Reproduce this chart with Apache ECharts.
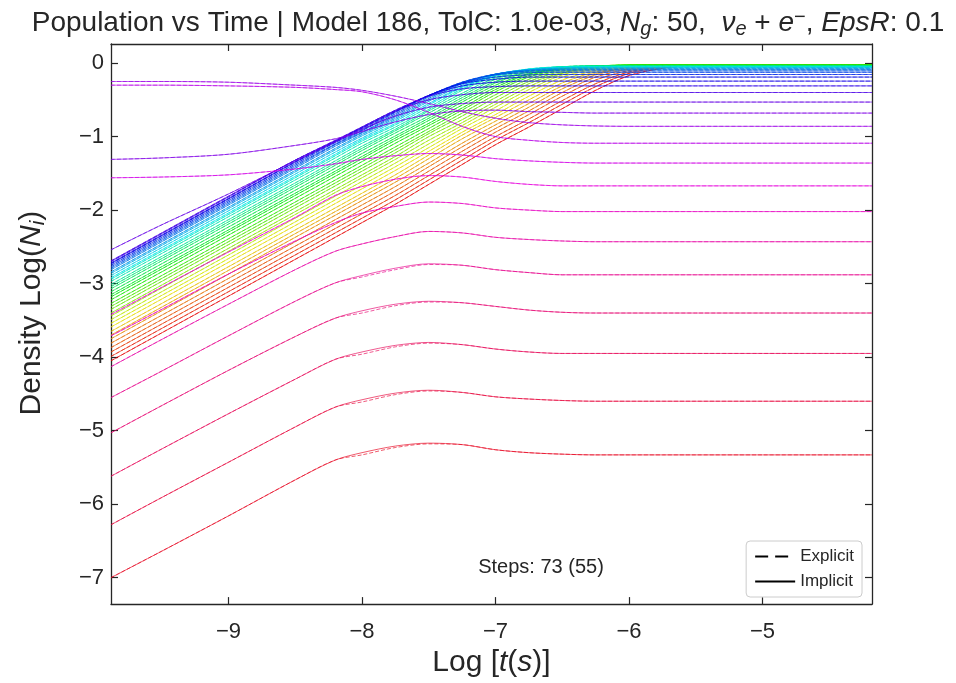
<!DOCTYPE html>
<html><head><meta charset="utf-8">
<script src="https://cdn.jsdelivr.net/npm/echarts@6/dist/echarts.min.js"></script>
<style>html,body{margin:0;padding:0;background:#fff}#c{width:956px;height:683px}</style>
</head><body><div id="c"></div>
<script>
// time grid (log10 t)
const logT = [-9.88,-9.5,-9.0,-8.5,-8.2,-8.0,-7.75,-7.5,-7.25,-7.0,-6.75,-6.5,-6.25,-6.0,-5.75,-5.5,-5.0,-4.5,-4.18];
const xTicks = [-9,-8,-7,-6,-5];
const yTicks = [-7,-6,-5,-4,-3,-2,-1,0];

// implicit populations log10(N_i), groups 0..49
const N00 = [-4.05,-3.67,-3.17,-2.67,-2.37,-2.17,-1.92,-1.65,-1.38,-1.11,-0.87,-0.62,-0.37,-0.17,-0.07,-0.03,-0.022,-0.022,-0.022];
const N01 = [-3.99,-3.61,-3.11,-2.61,-2.31,-2.11,-1.86,-1.59,-1.32,-1.05,-0.81,-0.56,-0.32,-0.14,-0.06,-0.03,-0.022,-0.022,-0.022];
const N02 = [-3.93,-3.55,-3.05,-2.55,-2.25,-2.05,-1.80,-1.53,-1.26,-1.00,-0.76,-0.51,-0.28,-0.12,-0.05,-0.03,-0.022,-0.022,-0.022];
const N03 = [-3.87,-3.49,-2.99,-2.49,-2.19,-1.99,-1.74,-1.47,-1.20,-0.94,-0.70,-0.45,-0.23,-0.10,-0.04,-0.022,-0.022,-0.022,-0.022];
const N04 = [-3.81,-3.43,-2.93,-2.43,-2.13,-1.93,-1.68,-1.41,-1.14,-0.89,-0.65,-0.40,-0.19,-0.08,-0.03,-0.023,-0.023,-0.023,-0.023];
const N05 = [-3.75,-3.37,-2.87,-2.37,-2.07,-1.87,-1.62,-1.36,-1.09,-0.84,-0.60,-0.35,-0.16,-0.06,-0.03,-0.023,-0.023,-0.023,-0.023];
const N06 = [-3.70,-3.32,-2.82,-2.32,-2.02,-1.82,-1.57,-1.30,-1.03,-0.79,-0.55,-0.31,-0.14,-0.06,-0.03,-0.023,-0.023,-0.023,-0.023];
const N07 = [-3.65,-3.27,-2.77,-2.27,-1.97,-1.77,-1.52,-1.25,-0.98,-0.74,-0.50,-0.27,-0.12,-0.05,-0.03,-0.023,-0.023,-0.023,-0.023];
const N08 = [-3.59,-3.21,-2.71,-2.21,-1.91,-1.71,-1.46,-1.20,-0.94,-0.70,-0.45,-0.23,-0.10,-0.04,-0.024,-0.024,-0.024,-0.024,-0.024];
const N09 = [-3.54,-3.16,-2.66,-2.16,-1.86,-1.66,-1.41,-1.15,-0.89,-0.65,-0.40,-0.19,-0.08,-0.03,-0.024,-0.024,-0.024,-0.024,-0.024];
const N10 = [-3.49,-3.11,-2.61,-2.11,-1.81,-1.61,-1.36,-1.10,-0.85,-0.60,-0.36,-0.16,-0.07,-0.03,-0.025,-0.025,-0.025,-0.025,-0.025];
const N11 = [-3.44,-3.06,-2.56,-2.06,-1.76,-1.56,-1.31,-1.05,-0.81,-0.56,-0.32,-0.14,-0.06,-0.03,-0.025,-0.025,-0.025,-0.025,-0.025];
const N12 = [-3.40,-3.02,-2.52,-2.02,-1.72,-1.52,-1.27,-1.00,-0.77,-0.52,-0.28,-0.13,-0.05,-0.03,-0.026,-0.026,-0.026,-0.026,-0.026];
const N13 = [-3.35,-2.97,-2.47,-1.97,-1.67,-1.47,-1.22,-0.96,-0.72,-0.47,-0.25,-0.11,-0.05,-0.026,-0.026,-0.026,-0.026,-0.026,-0.026];
const N14 = [-3.31,-2.93,-2.43,-1.93,-1.63,-1.43,-1.18,-0.93,-0.68,-0.43,-0.22,-0.09,-0.04,-0.027,-0.027,-0.027,-0.027,-0.027,-0.027];
const N15 = [-3.27,-2.89,-2.39,-1.89,-1.59,-1.39,-1.14,-0.89,-0.64,-0.39,-0.19,-0.08,-0.04,-0.028,-0.028,-0.028,-0.028,-0.028,-0.028];
const N16 = [-3.22,-2.84,-2.34,-1.84,-1.54,-1.34,-1.09,-0.85,-0.61,-0.36,-0.17,-0.07,-0.04,-0.029,-0.029,-0.029,-0.029,-0.029,-0.029];
const N17 = [-3.18,-2.80,-2.30,-1.80,-1.50,-1.30,-1.05,-0.82,-0.57,-0.33,-0.15,-0.07,-0.04,-0.030,-0.030,-0.030,-0.030,-0.030,-0.030];
const N18 = [-3.15,-2.77,-2.27,-1.77,-1.47,-1.27,-1.02,-0.78,-0.53,-0.30,-0.14,-0.06,-0.04,-0.031,-0.031,-0.031,-0.031,-0.031,-0.031];
const N19 = [-3.11,-2.73,-2.23,-1.73,-1.43,-1.23,-0.99,-0.75,-0.50,-0.27,-0.12,-0.06,-0.04,-0.033,-0.033,-0.033,-0.033,-0.033,-0.033];
const N20 = [-3.07,-2.69,-2.19,-1.69,-1.39,-1.19,-0.95,-0.72,-0.47,-0.25,-0.11,-0.05,-0.04,-0.035,-0.035,-0.035,-0.035,-0.035,-0.035];
const N21 = [-3.04,-2.66,-2.16,-1.66,-1.36,-1.16,-0.92,-0.68,-0.44,-0.22,-0.10,-0.05,-0.037,-0.037,-0.037,-0.037,-0.037,-0.037,-0.037];
const N22 = [-3.01,-2.63,-2.13,-1.63,-1.33,-1.13,-0.90,-0.65,-0.41,-0.20,-0.09,-0.05,-0.040,-0.040,-0.040,-0.040,-0.040,-0.040,-0.040];
const N23 = [-2.97,-2.59,-2.09,-1.59,-1.29,-1.09,-0.87,-0.63,-0.37,-0.18,-0.09,-0.05,-0.043,-0.043,-0.043,-0.043,-0.043,-0.043,-0.043];
const N24 = [-2.94,-2.56,-2.06,-1.56,-1.26,-1.06,-0.84,-0.60,-0.35,-0.17,-0.08,-0.05,-0.047,-0.047,-0.047,-0.047,-0.047,-0.047,-0.047];
const N25 = [-2.92,-2.54,-2.04,-1.54,-1.24,-1.04,-0.82,-0.57,-0.33,-0.16,-0.08,-0.06,-0.052,-0.052,-0.052,-0.052,-0.052,-0.052,-0.052];
const N26 = [-2.89,-2.51,-2.01,-1.51,-1.21,-1.02,-0.79,-0.55,-0.32,-0.16,-0.09,-0.06,-0.058,-0.058,-0.058,-0.058,-0.058,-0.058,-0.058];
const N27 = [-2.86,-2.48,-1.98,-1.48,-1.18,-0.99,-0.77,-0.52,-0.30,-0.15,-0.09,-0.07,-0.066,-0.066,-0.066,-0.066,-0.066,-0.066,-0.066];
const N28 = [-2.84,-2.46,-1.96,-1.46,-1.16,-0.97,-0.75,-0.50,-0.28,-0.15,-0.09,-0.08,-0.076,-0.076,-0.076,-0.076,-0.076,-0.076,-0.076];
const N29 = [-2.81,-2.43,-1.93,-1.43,-1.13,-0.95,-0.73,-0.48,-0.27,-0.15,-0.10,-0.09,-0.088,-0.088,-0.088,-0.088,-0.088,-0.088,-0.088];
const N30 = [-2.79,-2.41,-1.91,-1.41,-1.11,-0.94,-0.71,-0.46,-0.26,-0.15,-0.11,-0.105,-0.105,-0.105,-0.105,-0.105,-0.105,-0.105,-0.105];
const N31 = [-2.77,-2.39,-1.89,-1.39,-1.10,-0.92,-0.69,-0.445,-0.26,-0.16,-0.13,-0.125,-0.125,-0.125,-0.125,-0.125,-0.125,-0.125,-0.125];
const N32 = [-2.75,-2.37,-1.87,-1.37,-1.08,-0.91,-0.67,-0.44,-0.27,-0.19,-0.16,-0.155,-0.155,-0.155,-0.155,-0.155,-0.155,-0.155,-0.155];
const N33 = [-2.73,-2.35,-1.85,-1.35,-1.07,-0.89,-0.66,-0.44,-0.28,-0.22,-0.19,-0.19,-0.19,-0.19,-0.19,-0.19,-0.19,-0.19,-0.19];
const N34 = [-2.72,-2.34,-1.84,-1.34,-1.06,-0.88,-0.65,-0.44,-0.31,-0.26,-0.245,-0.245,-0.245,-0.245,-0.245,-0.245,-0.245,-0.245,-0.245];
const N35 = [-2.70,-2.32,-1.82,-1.32,-1.06,-0.87,-0.64,-0.45,-0.35,-0.32,-0.31,-0.31,-0.31,-0.31,-0.31,-0.31,-0.31,-0.31,-0.31];
const N36 = [-2.69,-2.31,-1.81,-1.32,-1.05,-0.87,-0.65,-0.50,-0.43,-0.40,-0.40,-0.40,-0.40,-0.40,-0.40,-0.40,-0.40,-0.40,-0.40];
const N37 = [-2.54,-2.20,-1.78,-1.33,-1.07,-0.90,-0.72,-0.60,-0.55,-0.53,-0.53,-0.53,-0.53,-0.53,-0.53,-0.53,-0.53,-0.53,-0.53];
const N38 = [-1.31,-1.29,-1.24,-1.12,-1.03,-0.93,-0.80,-0.70,-0.65,-0.64,-0.66,-0.67,-0.68,-0.68,-0.68,-0.68,-0.68,-0.68,-0.68];
const N39 = [-0.25,-0.25,-0.26,-0.30,-0.33,-0.37,-0.45,-0.55,-0.66,-0.75,-0.81,-0.84,-0.855,-0.86,-0.86,-0.86,-0.86,-0.86,-0.86];
const N40 = [-0.30,-0.30,-0.31,-0.33,-0.36,-0.39,-0.50,-0.67,-0.86,-1.00,-1.05,-1.08,-1.09,-1.09,-1.09,-1.09,-1.09,-1.09,-1.09];
const N41 = [-1.56,-1.55,-1.52,-1.44,-1.37,-1.31,-1.26,-1.23,-1.25,-1.30,-1.33,-1.35,-1.36,-1.36,-1.36,-1.36,-1.36,-1.36,-1.36];
const N42 = [-3.42,-3.05,-2.57,-2.10,-1.80,-1.68,-1.58,-1.53,-1.55,-1.61,-1.65,-1.67,-1.67,-1.67,-1.67,-1.67,-1.67,-1.67,-1.67];
const N43 = [-3.71,-3.35,-2.87,-2.42,-2.17,-2.04,-1.95,-1.89,-1.91,-1.97,-2.00,-2.02,-2.02,-2.02,-2.02,-2.02,-2.02,-2.02,-2.02];
const N44 = [-4.13,-3.76,-3.28,-2.81,-2.56,-2.46,-2.36,-2.29,-2.31,-2.37,-2.40,-2.42,-2.43,-2.43,-2.43,-2.43,-2.43,-2.43,-2.43];
const N45 = [-4.55,-4.19,-3.71,-3.24,-2.99,-2.89,-2.79,-2.73,-2.75,-2.81,-2.85,-2.88,-2.88,-2.88,-2.88,-2.88,-2.88,-2.88,-2.88];
const N46 = [-5.03,-4.66,-4.18,-3.72,-3.47,-3.37,-3.28,-3.24,-3.26,-3.31,-3.36,-3.39,-3.40,-3.40,-3.40,-3.40,-3.40,-3.40,-3.40];
const N47 = [-5.62,-5.25,-4.77,-4.30,-4.03,-3.93,-3.84,-3.80,-3.83,-3.89,-3.93,-3.95,-3.95,-3.95,-3.95,-3.95,-3.95,-3.95,-3.95];
const N48 = [-6.28,-5.91,-5.43,-4.95,-4.68,-4.58,-4.49,-4.45,-4.48,-4.54,-4.57,-4.59,-4.60,-4.60,-4.60,-4.60,-4.60,-4.60,-4.60];
const N49 = [-7.00,-6.64,-6.16,-5.67,-5.40,-5.30,-5.21,-5.17,-5.19,-5.26,-5.30,-5.32,-5.33,-5.33,-5.33,-5.33,-5.33,-5.33,-5.33];

// explicit runs that visibly differ from implicit (highest groups, near the kink)
const E45 = [-4.55,-4.19,-3.71,-3.24,-2.99,-2.91,-2.81,-2.74,-2.75,-2.81,-2.85,-2.88,-2.88,-2.88,-2.88,-2.88,-2.88,-2.88,-2.88];
const E46 = [-5.03,-4.66,-4.18,-3.72,-3.47,-3.40,-3.30,-3.25,-3.26,-3.31,-3.36,-3.39,-3.40,-3.40,-3.40,-3.40,-3.40,-3.40,-3.40];
const E47 = [-5.62,-5.25,-4.77,-4.30,-4.03,-3.96,-3.86,-3.81,-3.83,-3.89,-3.93,-3.95,-3.95,-3.95,-3.95,-3.95,-3.95,-3.95,-3.95];
const E48 = [-6.28,-5.91,-5.43,-4.95,-4.68,-4.61,-4.51,-4.46,-4.48,-4.54,-4.57,-4.59,-4.60,-4.60,-4.60,-4.60,-4.60,-4.60,-4.60];
const E49 = [-7.00,-6.64,-6.16,-5.67,-5.40,-5.33,-5.23,-5.18,-5.19,-5.26,-5.30,-5.32,-5.33,-5.33,-5.33,-5.33,-5.33,-5.33,-5.33];

const implicitRuns = [N00,N01,N02,N03,N04,N05,N06,N07,N08,N09,N10,N11,N12,N13,N14,N15,N16,N17,N18,N19,
  N20,N21,N22,N23,N24,N25,N26,N27,N28,N29,N30,N31,N32,N33,N34,N35,N36,N37,N38,N39,N40,N41,N42,N43,N44,N45,N46,N47,N48,N49];
const explicitRuns = [N00,N01,N02,N03,N04,N05,N06,N07,N08,N09,N10,N11,N12,N13,N14,N15,N16,N17,N18,N19,
  N20,N21,N22,N23,N24,N25,N26,N27,N28,N29,N30,N31,N32,N33,N34,N35,N36,N37,N38,N39,N40,N41,N42,N43,N44,E45,E46,E47,E48,E49];

function hsvColor(f){ // matplotlib-like hsv colormap
  const h = (f*6)%6, i = Math.floor(h), fr = h - i;
  const q = 1-fr, t = fr;
  const m = [[1,t,0],[q,1,0],[0,1,t],[0,q,1],[t,0,1],[1,0,q]][i];
  const v = 0.9;
  return 'rgb(' + m.map(c => Math.round(c*v*255)).join(',') + ')';
}
const pairs = arr => arr.map((y, k) => [logT[k], y]);
const minus = v => String(v).replace('-', '\u2212');

const series = [];
const nG = implicitRuns.length;
for (let g = 0; g < nG; g++) {
  const col = hsvColor(g/nG);
  series.push({type:'line', data: pairs(explicitRuns[g]), symbol:'none', silent:true, z:2,
    smooth:0.3,
    lineStyle:{color:col, width:1, type:[4,2], opacity:0.65}});
  series.push({type:'line', data: pairs(implicitRuns[g]), symbol:'none', silent:true, z:2,
    smooth:0.3,
    lineStyle:{color:col, width:1, opacity:0.65}});
}
series.push({name:'Explicit', type:'line', data:[], symbol:'none', lineStyle:{color:'#000', width:2.6, type:[13,7]}, itemStyle:{color:'#000', opacity:0}});
series.push({name:'Implicit', type:'line', data:[], symbol:'none', lineStyle:{color:'#000', width:2.6}, itemStyle:{color:'#000', opacity:0}});

const axCol = '#262626';
const FONT = 'Liberation Sans, Arial, sans-serif';
const chart = echarts.init(document.getElementById('c'), null, {renderer:'canvas'});
chart.setOption({
  animation:false,
  backgroundColor:'#fff',
  textStyle:{fontFamily:FONT},
  legend:{
    data:['Explicit','Implicit'], orient:'vertical', right:94, bottom:86,
    itemWidth:40, itemHeight:14, itemGap:8, padding:[7,8,7,8],
    itemStyle:{opacity:0},
    borderColor:'#cccccc', borderWidth:1, borderRadius:4, backgroundColor:'#fff',
    textStyle:{fontFamily:FONT, fontSize:17, color:'#262626'}
  },
  graphic:[
    {type:'text', x:488, y:23, style:{
      text:'Population vs Time | Model 186, TolC: 1.0e-03, {i|N}{sub|g}: 50,  {i|\u03bd}{sub|e} + {i|e}{sup|\u2212}, {i|EpsR}: 0.1',
      font:'28px '+FONT, fill:'#262626', align:'center', verticalAlign:'middle',
      rich:{
        i:{fontFamily:FONT, fontSize:28, fontStyle:'italic', fill:'#262626'},
        sub:{fontFamily:FONT, fontSize:20, fontStyle:'italic', fill:'#262626', padding:[12,0,0,0]},
        sup:{fontFamily:FONT, fontSize:20, fill:'#262626', padding:[0,0,12,0]}
      }}},
    {type:'text', x:541, y:567, style:{text:'Steps: 73 (55)', font:'20px '+FONT, fill:'#262626', align:'center', verticalAlign:'middle'}}
  ],
  grid:{left:111, right:84, top:44, bottom:77, containLabel:false},
  xAxis:[{
    type:'value', min:-9.88, max:-4.18, position:'bottom',
    name:'Log [{i|t}({i|s})]', nameLocation:'middle', nameGap:40,
    nameTextStyle:{fontFamily:FONT, fontSize:30, color:'#262626', rich:{i:{fontFamily:FONT, fontSize:30, fontStyle:'italic', color:'#262626'}}},
    axisLine:{show:true, onZero:false, lineStyle:{color:axCol, width:1.3}},
    axisTick:{show:true, inside:true, length:7, customValues:xTicks, lineStyle:{color:axCol, width:1.2}},
    axisLabel:{customValues:xTicks, formatter:minus, fontFamily:FONT, fontSize:22, color:'#262626', margin:17},
    splitLine:{show:false}
  },{
    type:'value', min:-9.88, max:-4.18, position:'top',
    axisLine:{show:true, onZero:false, lineStyle:{color:axCol, width:1.3}},
    axisTick:{show:true, inside:true, length:7, customValues:xTicks, lineStyle:{color:axCol, width:1.2}},
    axisLabel:{show:false}, splitLine:{show:false}
  }],
  yAxis:[{
    type:'value', min:-7.36, max:0.26, position:'left',
    name:'Density Log({i|N}{sub|i})', nameLocation:'middle', nameGap:62, nameRotate:90,
    nameTextStyle:{fontFamily:FONT, fontSize:30, color:'#262626', padding:[0,0,0,22], rich:{
      i:{fontFamily:FONT, fontSize:30, fontStyle:'italic', color:'#262626'},
      sub:{fontFamily:FONT, fontSize:21, fontStyle:'italic', color:'#262626', padding:[13,0,0,0]}}},
    axisLine:{show:true, onZero:false, lineStyle:{color:axCol, width:1.3}},
    axisTick:{show:true, inside:true, length:7, customValues:yTicks, lineStyle:{color:axCol, width:1.2}},
    axisLabel:{customValues:yTicks, formatter:minus, fontFamily:FONT, fontSize:22, color:'#262626', margin:7},
    splitLine:{show:false}
  },{
    type:'value', min:-7.36, max:0.26, position:'right',
    axisLine:{show:true, onZero:false, lineStyle:{color:axCol, width:1.3}},
    axisTick:{show:true, inside:true, length:7, customValues:yTicks, lineStyle:{color:axCol, width:1.2}},
    axisLabel:{show:false}, splitLine:{show:false}
  }],
  series: series
});
</script></body></html>
